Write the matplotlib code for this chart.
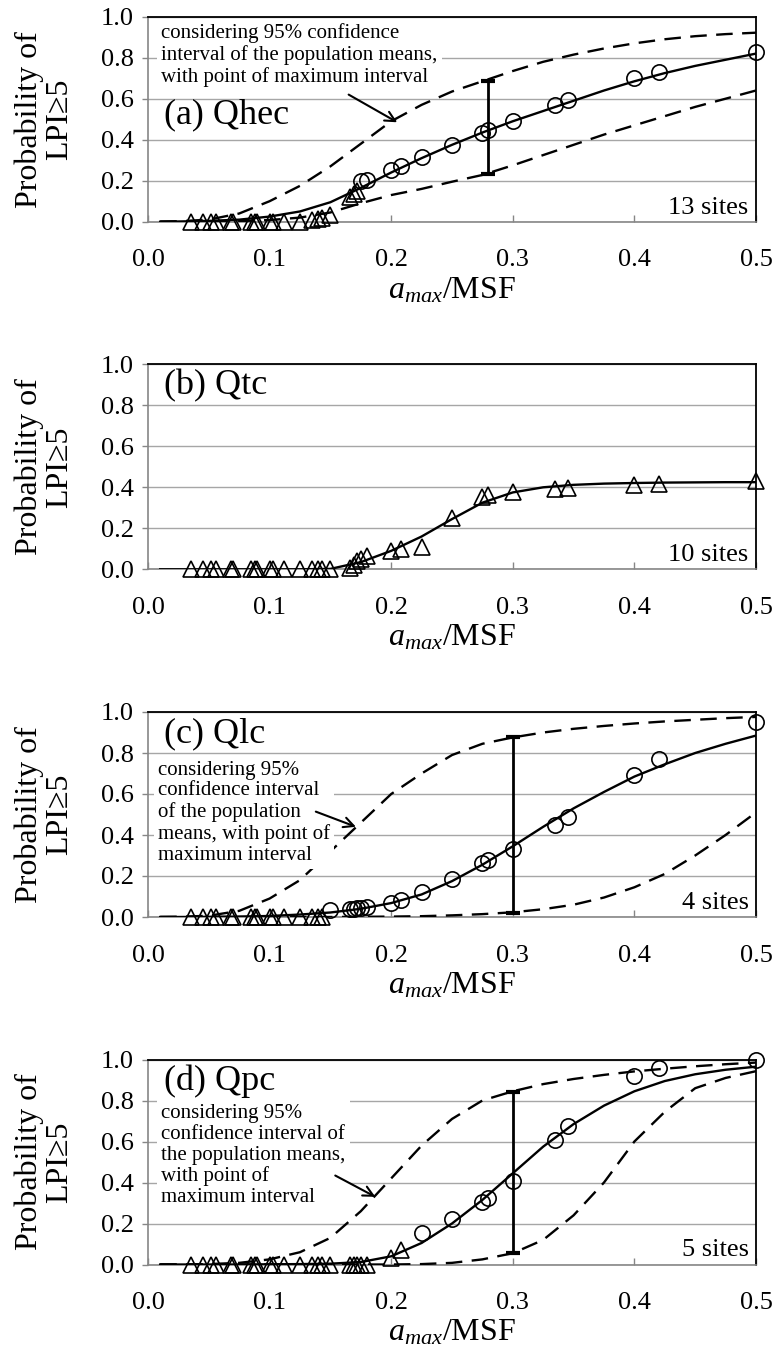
import matplotlib
matplotlib.use('Agg')
import matplotlib.pyplot as plt

plt.rcParams['font.family'] = ['Liberation Serif', 'DejaVu Serif']
plt.rcParams['mathtext.fontset'] = 'custom'
plt.rcParams['mathtext.rm'] = 'Liberation Serif'
plt.rcParams['mathtext.it'] = 'Liberation Serif:italic'

# ---------------- data ----------------
x_ticks = [0.0, 0.1, 0.2, 0.3, 0.4, 0.5]
y_ticks = [0.0, 0.2, 0.4, 0.6, 0.8, 1.0]

curve_x = [0.01, 0.025, 0.05, 0.075, 0.1, 0.125, 0.15, 0.175, 0.2, 0.225, 0.25,
           0.275, 0.3, 0.325, 0.35, 0.375, 0.4, 0.425, 0.45, 0.475, 0.5]

# (a) Qhec
a_mean = [0, 0.001, 0.004, 0.01, 0.025, 0.05, 0.095, 0.165, 0.24, 0.31, 0.375,
          0.435, 0.49, 0.54, 0.59, 0.64, 0.685, 0.725, 0.76, 0.79, 0.82]
a_upper = [0, 0.002, 0.01, 0.04, 0.1, 0.175, 0.27, 0.38, 0.49, 0.57, 0.635,
           0.685, 0.735, 0.78, 0.815, 0.845, 0.87, 0.89, 0.905, 0.915, 0.922]
a_lower = [0, 0, 0.001, 0.003, 0.008, 0.02, 0.045, 0.09, 0.13, 0.16, 0.195,
           0.228, 0.275, 0.325, 0.375, 0.425, 0.47, 0.515, 0.56, 0.6, 0.64]
a_tri_x = [0.035, 0.045, 0.052, 0.056, 0.068, 0.070, 0.085, 0.088, 0.090, 0.100,
           0.103, 0.112, 0.125, 0.135, 0.140, 0.143, 0.150, 0.166, 0.169, 0.172]
a_tri_y = [0, 0, 0, 0, 0, 0, 0, 0, 0, 0,
           0, 0, 0, 0.01, 0.015, 0.02, 0.035, 0.12, 0.137, 0.15]
a_circ_x = [0.175, 0.180, 0.200, 0.208, 0.225, 0.250, 0.275, 0.280, 0.300, 0.335,
            0.345, 0.400, 0.420, 0.500]
a_circ_y = [0.20, 0.205, 0.25, 0.27, 0.315, 0.375, 0.435, 0.445, 0.49, 0.57,
            0.595, 0.70, 0.73, 0.83]
a_err = [0.28, 0.234, 0.685]   # x, low, high

# (b) Qtc
b_mean = [0, 0, 0, 0, 0, 0, 0.002, 0.035, 0.09, 0.16, 0.245,
          0.325, 0.375, 0.40, 0.412, 0.418, 0.421, 0.423, 0.424, 0.425, 0.425]
b_tri_x = [0.035, 0.045, 0.052, 0.056, 0.068, 0.070, 0.085, 0.088, 0.090, 0.100,
           0.103, 0.112, 0.125, 0.135, 0.140, 0.143, 0.150, 0.166, 0.169, 0.172,
           0.175, 0.180, 0.200, 0.208, 0.225, 0.250, 0.275, 0.280, 0.300, 0.335,
           0.345, 0.400, 0.420, 0.500]
b_tri_y = [0, 0, 0, 0, 0, 0, 0, 0, 0, 0,
           0, 0, 0, 0, 0, 0, 0, 0.005, 0.02, 0.04,
           0.05, 0.065, 0.09, 0.10, 0.108, 0.25, 0.355, 0.36, 0.375, 0.39,
           0.395, 0.41, 0.415, 0.43]

# (c) Qlc
c_mean = [0, 0, 0.001, 0.002, 0.005, 0.012, 0.022, 0.04, 0.068, 0.11, 0.175,
          0.255, 0.345, 0.44, 0.53, 0.61, 0.685, 0.745, 0.80, 0.845, 0.885]
c_upper = [0, 0.001, 0.006, 0.03, 0.09, 0.18, 0.32, 0.46, 0.60, 0.70, 0.79,
           0.845, 0.876, 0.90, 0.918, 0.932, 0.944, 0.954, 0.962, 0.97, 0.976]
c_lower = [0, 0, 0, 0, 0, 0, 0, 0.001, 0.002, 0.004, 0.008,
           0.014, 0.023, 0.038, 0.06, 0.095, 0.145, 0.21, 0.30, 0.40, 0.51]
c_tri_x = [0.035, 0.045, 0.052, 0.056, 0.068, 0.070, 0.085, 0.088, 0.090, 0.100,
           0.103, 0.112, 0.125, 0.135, 0.140, 0.143]
c_tri_y = [0, 0, 0, 0, 0, 0, 0, 0, 0, 0, 0, 0, 0, 0, 0, 0]
c_circ_x = [0.150, 0.166, 0.169, 0.172, 0.175, 0.180, 0.200, 0.208, 0.225, 0.250,
            0.275, 0.280, 0.300, 0.335, 0.345, 0.400, 0.420, 0.500]
c_circ_y = [0.035, 0.037, 0.04, 0.042, 0.045, 0.048, 0.07, 0.085, 0.12, 0.185,
            0.265, 0.28, 0.33, 0.45, 0.49, 0.695, 0.77, 0.95]
c_err = [0.30, 0.02, 0.876]

# (d) Qpc
d_mean = [0, 0, 0, 0, 0.001, 0.002, 0.004, 0.012, 0.04, 0.105, 0.20,
          0.315, 0.445, 0.575, 0.685, 0.775, 0.845, 0.895, 0.928, 0.95, 0.965]
d_upper = [0, 0, 0.002, 0.008, 0.025, 0.06, 0.13, 0.26, 0.42, 0.58, 0.71,
           0.80, 0.845, 0.88, 0.905, 0.925, 0.942, 0.955, 0.967, 0.977, 0.985]
d_lower = [0, 0, 0, 0, 0, 0, 0, 0, 0, 0.002, 0.008,
           0.025, 0.055, 0.12, 0.24, 0.40, 0.60, 0.745, 0.86, 0.91, 0.943]
d_tri_x = [0.035, 0.045, 0.052, 0.056, 0.068, 0.070, 0.085, 0.088, 0.090, 0.100,
           0.103, 0.112, 0.125, 0.135, 0.140, 0.143, 0.150, 0.166, 0.169, 0.172,
           0.175, 0.180, 0.200, 0.208]
d_tri_y = [0, 0, 0, 0, 0, 0, 0, 0, 0, 0,
           0, 0, 0, 0, 0, 0, 0, 0, 0, 0,
           0, 0, 0.03, 0.07]
d_circ_x = [0.225, 0.250, 0.275, 0.280, 0.300, 0.335, 0.345, 0.400, 0.420, 0.500]
d_circ_y = [0.155, 0.22, 0.305, 0.325, 0.405, 0.605, 0.675, 0.92, 0.96, 1.0]
d_err = [0.30, 0.055, 0.843]

titles = ['(a) Qhec', '(b) Qtc', '(c) Qlc', '(d) Qpc']
sites = ['13 sites', '10 sites', '4 sites', '5 sites']
notes = ['considering 95% confidence\ninterval of the population means,\nwith point of maximum interval',
         None,
         'considering 95%\nconfidence interval\nof the population\nmeans, with point of\nmaximum interval',
         'considering 95%\nconfidence interval of\nthe population means,\nwith point of\nmaximum interval']

# ---------------- layout ----------------
W, H = 778, 1358
fig = plt.figure(figsize=(W / 100, H / 100), dpi=100)
ax_left, ax_right = 148, 756
ax_h = 205
bottoms = [221.7, 569.3, 917.0, 1264.5]

panels = [
    dict(mean=a_mean, upper=a_upper, lower=a_lower, tri=(a_tri_x, a_tri_y),
         circ=(a_circ_x, a_circ_y), err=a_err, title_y=0.52,
         note_xy=(0.011, 0.968), arrow=((0.165, 0.62), (0.205, 0.485))),
    dict(mean=b_mean, upper=None, lower=None, tri=(b_tri_x, b_tri_y),
         circ=None, err=None, title_y=0.895, note_xy=None, arrow=None),
    dict(mean=c_mean, upper=c_upper, lower=c_lower, tri=(c_tri_x, c_tri_y),
         circ=(c_circ_x, c_circ_y), err=c_err, title_y=0.895,
         note_xy=(0.008, 0.762), arrow=((0.138, 0.514), (0.171, 0.44))),
    dict(mean=d_mean, upper=d_upper, lower=d_lower, tri=(d_tri_x, d_tri_y),
         circ=(d_circ_x, d_circ_y), err=d_err, title_y=0.895,
         note_xy=(0.011, 0.782), arrow=((0.154, 0.434), (0.187, 0.33))),
]

grid_c = '#a6a6a6'
axis_c = '#868686'
dash = (0, (7, 4))

for i, p in enumerate(panels):
    b = bottoms[i]
    ax = fig.add_axes([ax_left / W, 1 - b / H, (ax_right - ax_left) / W, ax_h / H])
    ax.set_xlim(0, 0.5)
    ax.set_ylim(0, 1)
    ax.set_xticks(x_ticks)
    ax.set_yticks(y_ticks)
    ax.set_xticklabels([f'{v:.1f}' for v in x_ticks])
    ax.set_yticklabels([f'{v:.1f}' for v in y_ticks])
    ax.tick_params(axis='y', direction='out', length=4, width=1, color=axis_c,
                   labelsize=19, pad=6)
    ax.tick_params(axis='x', direction='in', length=5, width=1, color=axis_c,
                   labelsize=19, pad=20)
    ax.yaxis.grid(True, color=grid_c, lw=1)
    ax.set_axisbelow(True)
    for s in ['left', 'bottom']:
        ax.spines[s].set_color(axis_c)
        ax.spines[s].set_linewidth(1.2)
    for s in ['top', 'right']:
        ax.spines[s].set_color('black')
        ax.spines[s].set_linewidth(1.3)

    ax.plot(curve_x, p['mean'], color='black', lw=1.7, zorder=3)
    if p['upper'] is not None:
        ax.plot(curve_x, p['upper'], color='black', lw=1.7, ls=dash, zorder=3)
        ax.plot(curve_x, p['lower'], color='black', lw=1.7, ls=dash, zorder=3)
    if p['err'] is not None:
        ex, lo, hi = p['err']
        ax.errorbar([ex], [(lo + hi) / 2], yerr=[[(hi - lo) / 2]], fmt='none',
                    ecolor='black', elinewidth=2, capsize=5, capthick=3, zorder=4)
    tx, ty = p['tri']
    ax.plot(tx, ty, ls='none', marker='^', ms=11, mfc='none', mec='black',
            mew=1.2, zorder=5, clip_on=False)
    if p['circ'] is not None:
        cx, cy = p['circ']
        ax.plot(cx, cy, ls='none', marker='o', ms=11, mfc='none', mec='black',
                mew=1.2, zorder=5, clip_on=False)

    ax.text(0.013, p['title_y'], titles[i], fontsize=26, va='center', ha='left',
            zorder=6)
    ax.text(0.494, 0.015, sites[i], fontsize=19, va='bottom', ha='right', zorder=6)

    if notes[i] is not None:
        nx, ny = p['note_xy']
        ax.text(nx, ny, notes[i], fontsize=15, va='top', ha='left', linespacing=1.12,
                bbox=dict(facecolor='white', edgecolor='none', pad=3), zorder=6)
        (t0x, t0y), (t1x, t1y) = p['arrow']
        ax.annotate('', xy=(t1x, t1y), xytext=(t0x, t0y),
                    arrowprops=dict(arrowstyle='->', color='black', lw=1.5,
                                    mutation_scale=18, shrinkA=0, shrinkB=0),
                    zorder=7)

    ax.set_xlabel(r'$a_{max}$/MSF', fontsize=23, labelpad=3)
    fig.text(44 / W, 1 - (b - ax_h / 2) / H, 'Probability of\nLPI\u22655', rotation=90,
             ha='center', va='center', fontsize=23, linespacing=1.05,
             multialignment='center')

fig.savefig('out.png', dpi=100)
